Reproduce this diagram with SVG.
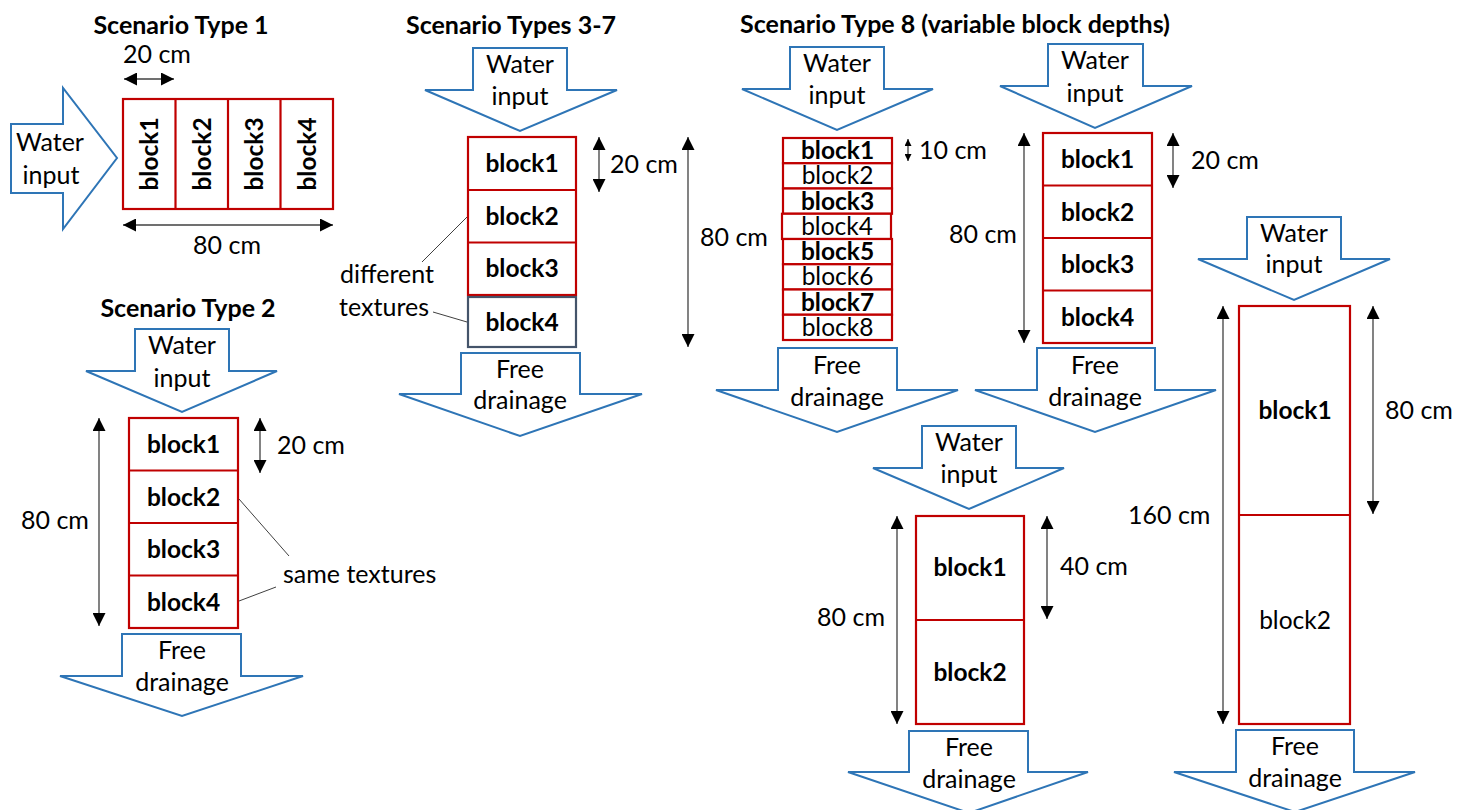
<svg xmlns="http://www.w3.org/2000/svg" width="1468" height="810" viewBox="0 0 1468 810">
<defs>
<marker id="ah" viewBox="0 0 10 10" refX="10" refY="5" markerUnits="userSpaceOnUse" markerWidth="14" markerHeight="13" orient="auto-start-reverse"><path d="M0,0 L10,5 L0,10 z" fill="#000"/></marker>
<marker id="ahs" viewBox="0 0 10 10" refX="10" refY="5" markerUnits="userSpaceOnUse" markerWidth="8" markerHeight="7" orient="auto-start-reverse"><path d="M0,0 L10,5 L0,10 z" fill="#000"/></marker>
</defs>
<style>
text{font-family:Lato,"Liberation Sans",sans-serif;font-size:25px;fill:#000}
.t{font-weight:bold;font-size:25px;text-anchor:middle}
.c{text-anchor:middle}
.b{font-weight:bold;font-size:24.5px;text-anchor:middle}
.n{text-anchor:middle;font-size:24.5px}
.arr{fill:#fff;stroke:#2E75B6;stroke-width:2}
.blk{fill:#fff;stroke:#C00000;stroke-width:2.2}
.blk2{fill:#fff;stroke:#44546A;stroke-width:2.2}
.dim{stroke:#404040;stroke-width:1.3;fill:none;marker-start:url(#ah);marker-end:url(#ah)}
.dims{stroke:#404040;stroke-width:1.3;fill:none;marker-start:url(#ahs);marker-end:url(#ahs)}
.lead{stroke:#404040;stroke-width:1;fill:none}
</style>

<g id="titles">
<text class="t" x="181" y="34">Scenario Type 1</text>
<text class="t" x="188" y="317">Scenario Type 2</text>
<text class="t" x="511" y="34">Scenario Types 3-7</text>
<text class="t" x="955" y="33">Scenario Type 8 (variable block depths)</text>
</g>

<!-- Scenario 1 -->
<g id="s1-input">
<polygon class="arr" points="11,124 63,124 63,88 117,158 63,229 63,193 11,193"/>
<text class="c" x="50" y="151">Water</text>
<text class="c" x="51" y="184">input</text>
</g>
<g id="s1-blocks">
<rect class="blk" x="123" y="99" width="210" height="110"/>
<line class="blk" x1="175.5" y1="99" x2="175.5" y2="209"/>
<line class="blk" x1="228" y1="99" x2="228" y2="209"/>
<line class="blk" x1="280.5" y1="99" x2="280.5" y2="209"/>
<text class="b" transform="translate(158,154) rotate(-90)">block1</text>
<text class="b" transform="translate(210.5,154) rotate(-90)">block2</text>
<text class="b" transform="translate(263,154) rotate(-90)">block3</text>
<text class="b" transform="translate(315.5,154) rotate(-90)">block4</text>
</g>
<g id="s1-dims">
<text x="123" y="63">20 cm</text>
<text class="c" x="227" y="254">80 cm</text>
</g>

<!-- Scenario 2 -->
<g id="s2-input">
<polygon class="arr" points="135,329 229,329 229,371 277,371 182,412 86,371 135,371"/>
<text class="c" x="182" y="354">Water</text>
<text class="c" x="182" y="387">input</text>
</g>
<g id="s2-blocks">
<rect class="blk" x="129" y="418" width="109" height="210"/>
<line class="blk" x1="129" y1="470.5" x2="238" y2="470.5"/>
<line class="blk" x1="129" y1="523" x2="238" y2="523"/>
<line class="blk" x1="129" y1="575.5" x2="238" y2="575.5"/>
<text class="b" x="183.5" y="453">block1</text>
<text class="b" x="183.5" y="505.5">block2</text>
<text class="b" x="183.5" y="558">block3</text>
<text class="b" x="183.5" y="610.5">block4</text>
</g>
<g id="s2-drain">
<polygon class="arr" points="122,634 241,634 241,676 303,676 182,716 60,676 122,676"/>
<text class="c" x="182" y="659">Free</text>
<text class="c" x="182" y="691">drainage</text>
</g>
<g id="s2-labels">
<text x="277" y="454">20 cm</text>
<text x="21" y="529">80 cm</text>
<text x="283" y="583">same textures</text>
</g>

<!-- Scenario 3-7 -->
<g id="s3-input">
<polygon class="arr" points="473,48 567,48 567,90 617,90 520,131 425,90 473,90"/>
<text class="c" x="520" y="73">Water</text>
<text class="c" x="520" y="105">input</text>
</g>
<g id="s3-blocks">
<rect class="blk" x="468" y="137" width="108" height="158"/>
<line class="blk" x1="468" y1="190" x2="576" y2="190"/>
<line class="blk" x1="468" y1="242.5" x2="576" y2="242.5"/>
<rect class="blk2" x="468" y="297" width="108" height="50"/>
<text class="b" x="522" y="172">block1</text>
<text class="b" x="522" y="224.5">block2</text>
<text class="b" x="522" y="277">block3</text>
<text class="b" x="522" y="330.5">block4</text>
</g>
<g id="s3-drain">
<polygon class="arr" points="461,353 580,353 580,394 642,394 520,436 399,394 461,394"/>
<text class="c" x="520" y="378">Free</text>
<text class="c" x="520" y="409">drainage</text>
</g>
<g id="s3-labels">
<text x="610" y="173">20 cm</text>
<text x="700" y="246">80 cm</text>
<text text-anchor="end" x="434" y="283">different</text>
<text text-anchor="end" x="429" y="316">textures</text>
</g>

<!-- Scenario 8a -->
<g id="s8a-input">
<polygon class="arr" points="790,47 884,47 884,89 933,89 837,130 742,89 790,89"/>
<text class="c" x="837" y="72">Water</text>
<text class="c" x="837" y="104">input</text>
</g>
<g id="s8a-blocks">
<rect class="blk" x="783" y="138" width="109" height="25.25"/>
<rect class="blk" x="783" y="163.25" width="109" height="25.25"/>
<rect class="blk" x="783" y="188.5" width="109" height="25.25"/>
<rect class="blk" x="782" y="213.75" width="109" height="25.25"/>
<rect class="blk" x="783" y="239" width="109" height="25.25"/>
<rect class="blk" x="783" y="264.25" width="109" height="25.25"/>
<rect class="blk" x="783" y="289.5" width="109" height="25.25"/>
<rect class="blk" x="783" y="314.75" width="109" height="25.25"/>
<text class="b" x="837.5" y="159">block1</text>
<text class="n" x="837.5" y="184.3">block2</text>
<text class="b" x="837.5" y="209.5">block3</text>
<text class="n" x="837" y="234.8">block4</text>
<text class="b" x="837.5" y="260">block5</text>
<text class="n" x="837.5" y="285.3">block6</text>
<text class="b" x="837.5" y="310.5">block7</text>
<text class="n" x="837.5" y="335.8">block8</text>
</g>
<g id="s8a-drain">
<polygon class="arr" points="778,348 897,348 897,390 958,390 837,432 716,390 778,390"/>
<text class="c" x="837" y="374">Free</text>
<text class="c" x="837" y="406">drainage</text>
</g>
<g id="s8a-labels">
<text x="919" y="159">10 cm</text>
</g>

<!-- Scenario 8b -->
<g id="s8b-input">
<polygon class="arr" points="1048,44 1143,44 1143,86 1192,86 1095,128 1000,86 1048,86"/>
<text class="c" x="1095" y="69">Water</text>
<text class="c" x="1095" y="102">input</text>
</g>
<g id="s8b-blocks">
<rect class="blk" x="1043" y="133" width="109" height="210"/>
<line class="blk" x1="1043" y1="185.5" x2="1152" y2="185.5"/>
<line class="blk" x1="1043" y1="238" x2="1152" y2="238"/>
<line class="blk" x1="1043" y1="290.5" x2="1152" y2="290.5"/>
<text class="b" x="1097.5" y="168">block1</text>
<text class="b" x="1097.5" y="220.5">block2</text>
<text class="b" x="1097.5" y="273">block3</text>
<text class="b" x="1097.5" y="325.5">block4</text>
</g>
<g id="s8b-drain">
<polygon class="arr" points="1037,348 1155,348 1155,390 1216,390 1095,432 975,390 1037,390"/>
<text class="c" x="1095" y="374">Free</text>
<text class="c" x="1095" y="406">drainage</text>
</g>
<g id="s8b-labels">
<text x="1191" y="169">20 cm</text>
<text x="949" y="243">80 cm</text>
</g>

<!-- Scenario 8c -->
<g id="s8c-input">
<polygon class="arr" points="922,426 1016,426 1016,468 1064,468 969,509 873,468 922,468"/>
<text class="c" x="969" y="451">Water</text>
<text class="c" x="969" y="483">input</text>
</g>
<g id="s8c-blocks">
<rect class="blk" x="916" y="516" width="108" height="208"/>
<line class="blk" x1="916" y1="620" x2="1024" y2="620"/>
<text class="b" x="970" y="576">block1</text>
<text class="b" x="970" y="681">block2</text>
</g>
<g id="s8c-drain">
<polygon class="arr" points="909,731 1028,731 1028,772 1088,772 969,813 848,772 909,772"/>
<text class="c" x="969" y="756">Free</text>
<text class="c" x="969" y="788">drainage</text>
</g>
<g id="s8c-labels">
<text x="1060" y="575">40 cm</text>
<text text-anchor="end" x="885" y="626">80 cm</text>
</g>

<!-- Scenario 8d -->
<g id="s8d-input">
<polygon class="arr" points="1247,217 1341,217 1341,259 1390,259 1294,300 1198,259 1247,259"/>
<text class="c" x="1294" y="242">Water</text>
<text class="c" x="1294" y="273">input</text>
</g>
<g id="s8d-blocks">
<rect class="blk" x="1239" y="306" width="111" height="418"/>
<line class="blk" x1="1239" y1="515" x2="1350" y2="515"/>
<text class="b" x="1295" y="419">block1</text>
<text class="n" x="1295" y="629">block2</text>
</g>
<g id="s8d-drain">
<polygon class="arr" points="1236,730 1354,730 1354,772 1415,772 1295,812 1174,772 1236,772"/>
<text class="c" x="1295" y="755">Free</text>
<text class="c" x="1295" y="787">drainage</text>
</g>
<g id="s8d-labels">
<text x="1385" y="419">80 cm</text>
<text x="1128" y="524">160 cm</text>
</g>

<g id="connectors">
<line class="dim" x1="124" y1="79" x2="174" y2="79"/>
<line class="dim" x1="123" y1="225" x2="333" y2="225"/>
<line class="dim" x1="260" y1="418" x2="260" y2="473"/>
<line class="dim" x1="99" y1="418" x2="99" y2="626"/>
<line class="lead" x1="239" y1="499" x2="289" y2="556"/>
<line class="lead" x1="239" y1="601" x2="276" y2="587"/>
<line class="dim" x1="599" y1="137" x2="599" y2="192"/>
<line class="dim" x1="688" y1="137" x2="688" y2="347"/>
<line class="lead" x1="422" y1="262" x2="467" y2="217"/>
<line class="lead" x1="433" y1="312" x2="467" y2="322"/>
<line class="dims" x1="908" y1="139" x2="908" y2="161"/>
<line class="dim" x1="1173" y1="133" x2="1173" y2="188"/>
<line class="dim" x1="1024" y1="133" x2="1024" y2="343"/>
<line class="dim" x1="1047" y1="516" x2="1047" y2="619"/>
<line class="dim" x1="897" y1="516" x2="897" y2="724"/>
<line class="dim" x1="1373" y1="306" x2="1373" y2="514"/>
<line class="dim" x1="1223" y1="306" x2="1223" y2="724"/>
</g>
</svg>
